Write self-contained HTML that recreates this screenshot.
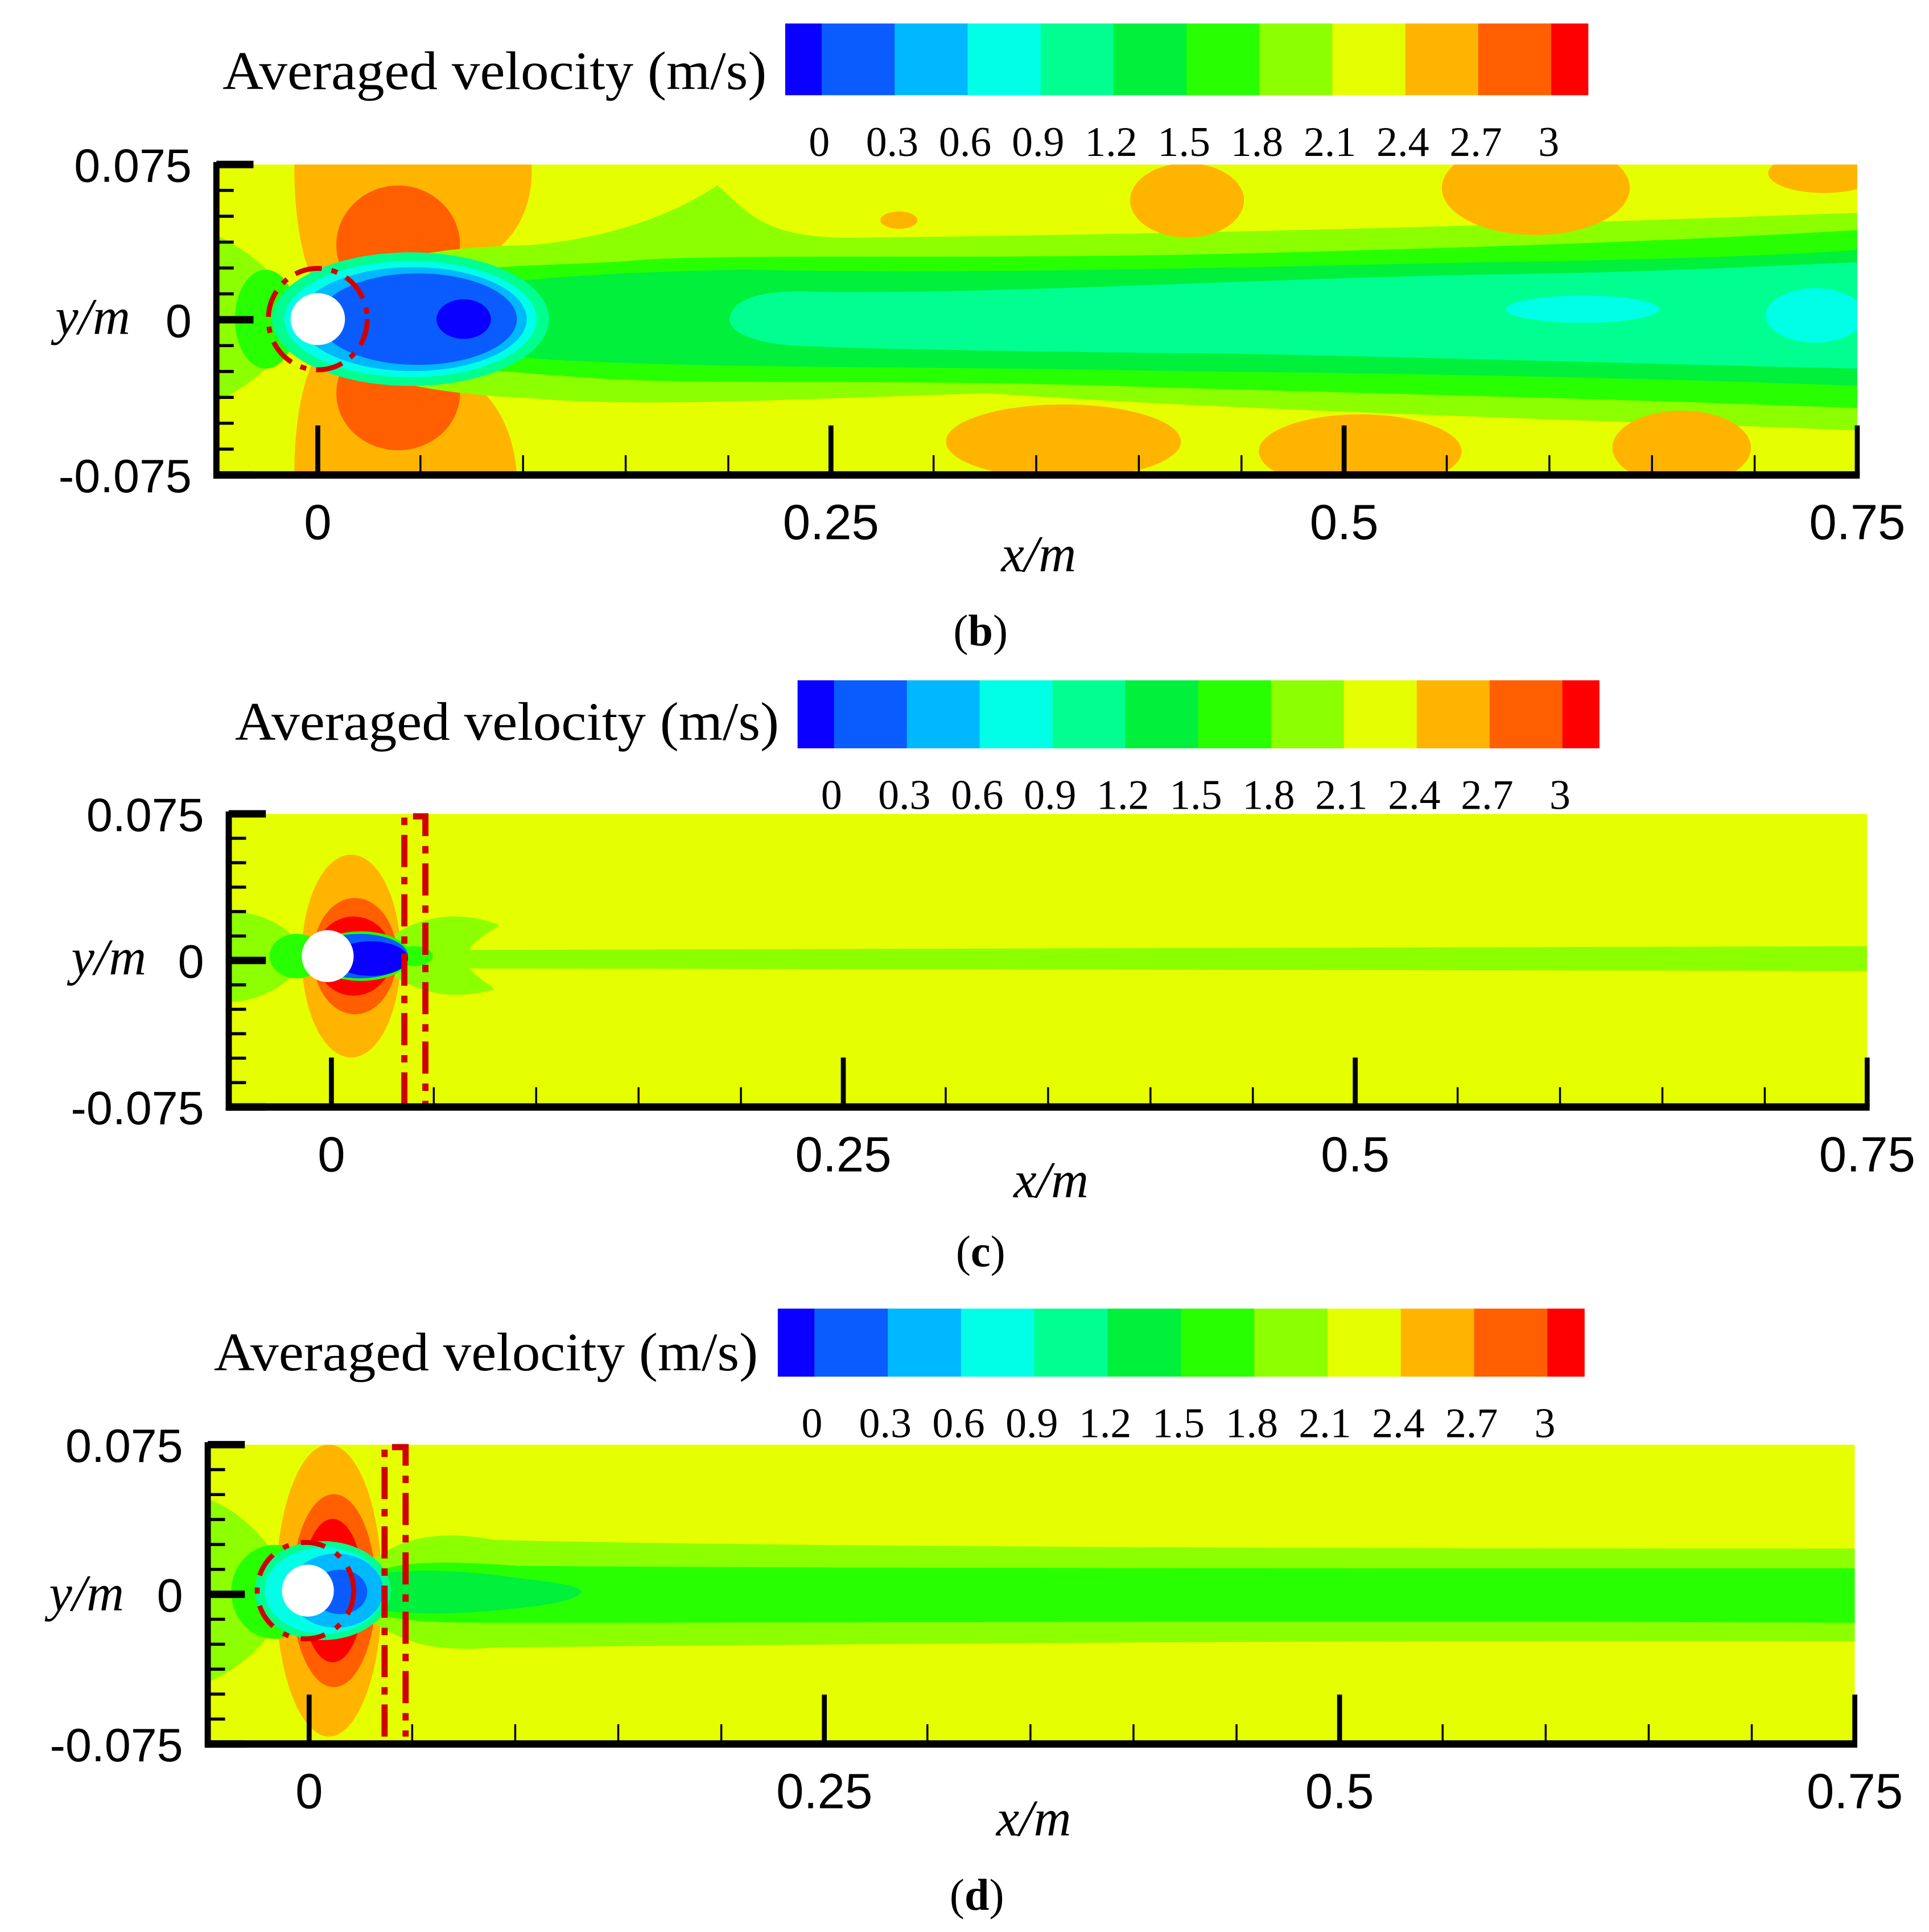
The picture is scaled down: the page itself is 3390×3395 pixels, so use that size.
<!DOCTYPE html>
<html><head><meta charset="utf-8">
<style>
html,body{margin:0;padding:0;background:#fff;}
svg{display:block;}
text{font-family:"Liberation Serif",serif;}
.ax{font-family:"Liberation Sans",sans-serif;}
</style></head>
<body>
<svg id="fig" xmlns="http://www.w3.org/2000/svg" width="3390" height="3395" viewBox="0 0 1560 1562" preserveAspectRatio="none"></svg>
<script>
// ---- data ----
const levelLabels = ["0","0.3","0.6","0.9","1.2","1.5","1.8","2.1","2.4","2.7","3"];
const levelColors = ["#0a00ff","#0a5cff","#00b8ff","#00ffe6","#00ff90","#00f03c","#28ff00","#8cff00","#e6ff00","#ffb400","#ff5f00","#ff0000"];
const xTickLabels = ["0","0.25","0.5","0.75"];
const xTickValues = [0,0.25,0.5,0.75];
const yTickLabels = ["0.075","0","-0.075"];
const yTickValues = [0.075,0,-0.075];
const panelNames = ["b","c","d"];

const NS="http://www.w3.org/2000/svg";
const svg=document.getElementById('fig');
function mk(tag,attrs,parent){const e=document.createElementNS(NS,tag);for(const k in attrs)e.setAttribute(k,attrs[k]);(parent||svg).appendChild(e);return e;}
const C={db:levelColors[0],b:levelColors[1],lb:levelColors[2],cy:levelColors[3],mi:levelColors[4],g2:levelColors[5],g:levelColors[6],lg:levelColors[7],y:levelColors[8],o:levelColors[9],ro:levelColors[10],r:levelColors[11]};

const panels=[
 {id:"b",cb:[635,19,1284,77],title:[180,72],plot:[175,133,1502,384],x0:257,x075:1502,cap:[793,522],xl:[840,462],yl:[75,270]},
 {id:"c",cb:[645,550,1293,605],title:[190,598],plot:[185,658,1510,895],x0:268,x075:1510,cap:[793,1024],xl:[850,968],yl:[88,788]},
 {id:"d",cb:[629,1058,1281,1113],title:[173,1108],plot:[168,1168,1500,1410],x0:250,x075:1500,cap:[790,1544],xl:[836,1484],yl:[70,1302]}
];

function ell(g,cx,cy,rx,ry,f){return mk('ellipse',{cx,cy,rx,ry,fill:f},g);}
function pth(g,d,f){return mk('path',{d,fill:f},g);}

function fieldB(g){
 pth(g,"M238,133 L430,133 C432,185 400,220 330,230 L262,242 C245,220 238,180 238,133Z",C.o);
 pth(g,"M238,384 L418,384 C414,330 385,298 330,288 L262,276 C245,300 238,340 238,384Z",C.o);
 ell(g,322,198,50,48,C.ro); ell(g,322,318,50,46,C.ro);
 pth(g,"M175,190 C205,205 230,225 240,258 C230,290 205,310 175,325Z",C.lg);
 ell(g,215,258,25,40,C.g);
 pth(g,"M250,245 C300,205 360,200 430,198 C500,192 550,170 580,150 C605,170 615,195 700,192 C900,190 1150,185 1502,172 L1502,348 C1300,340 1000,332 800,318 C650,322 520,330 430,322 C330,318 270,300 250,270Z",C.lg);
 pth(g,"M330,225 C400,212 470,215 520,210 C600,205 800,210 1000,205 C1200,200 1350,195 1502,186 L1502,330 C1300,322 1100,318 900,312 C700,306 560,312 470,305 C400,300 350,295 330,290Z",C.g);
 pth(g,"M380,232 C450,222 520,220 600,218 C800,222 1000,216 1200,212 C1350,210 1450,206 1502,202 L1502,312 C1350,306 1150,302 950,300 C750,296 600,298 470,292 C420,290 390,285 380,282Z",C.g2);
 pth(g,"M590,258 C592,240 620,234 660,236 C800,238 1000,226 1200,222 C1350,220 1450,214 1502,212 L1502,298 C1400,296 1200,290 1000,286 C800,284 700,282 660,280 C615,280 590,270 590,258Z",C.mi);
 ell(g,1280,250,62,11,C.cy); ell(g,1468,255,40,22,C.cy);
 ell(g,332,258,112,54,C.mi); ell(g,332,258,102,47,C.cy); ell(g,334,258,92,42,C.lb); ell(g,338,258,80,37,C.b);
 ell(g,375,258,22,16,C.db);
 ell(g,960,162,46,30,C.o); ell(g,1242,152,76,38,C.o); ell(g,1475,140,45,16,C.o); ell(g,727,178,15,7,C.o);
 ell(g,860,357,95,30,C.o); ell(g,1100,365,82,30,C.o); ell(g,1360,362,56,30,C.o);
}
function cylB(g){
 ell(g,257,258,22,21,"#fff");
 mk('ellipse',{cx:257,cy:258,rx:40,ry:41,fill:"none",stroke:"#d00000","stroke-width":4,"stroke-dasharray":"22 8 5 8"},g);
}
function fieldC(g){
 ell(g,284,773,40,82,C.o);
 ell(g,287,773,34,47,C.ro);
 ell(g,286,773,31,32,C.r);
 pth(g,"M185,738 C215,735 240,755 250,773 C240,790 215,810 185,810Z",C.lg);
 ell(g,240,773,22,18,C.g);
 pth(g,"M320,755 C350,735 385,740 404,748 C385,760 380,765 380,768 L1510,765 L1510,785 L380,783 C385,790 395,795 400,800 C370,808 345,805 320,790Z",C.lg);
 ell(g,335,773,15,8,C.g);
 ell(g,292,773,40,20,C.g); ell(g,291,773,39,18,C.b); ell(g,300,775,30,14,C.db);
}
function cylC(g){
 ell(g,265,773,21,21,"#fff");
 mk('path',{d:"M327,893 L327,660 L344,660 L344,893",fill:"none",stroke:"#d00000","stroke-width":5,"stroke-dasharray":"26 8 6 8"},g);
}
function fieldD(g){
 ell(g,266,1286,43,118,C.o);
 ell(g,270,1286,34,78,C.ro);
 ell(g,269,1286,25,58,C.r);
 pth(g,"M168,1212 C205,1225 230,1265 240,1286 C230,1310 205,1345 168,1360Z",C.lg);
 ell(g,222,1287,35,38,C.g);
 pth(g,"M300,1262 C330,1240 360,1238 400,1245 C600,1250 1000,1252 1500,1252 L1500,1327 C1000,1326 600,1330 400,1332 C360,1335 330,1332 300,1310Z",C.lg);
 pth(g,"M305,1270 C330,1262 360,1262 420,1266 C700,1268 1100,1268 1500,1268 L1500,1312 C1100,1310 700,1312 420,1312 C360,1312 330,1312 305,1305Z",C.g);
 pth(g,"M310,1272 C340,1268 380,1270 420,1276 C460,1280 470,1284 470,1287 C470,1290 460,1296 420,1300 C380,1305 340,1306 310,1302Z",C.g2);
 ell(g,261,1286,55,40,C.mi); ell(g,262,1286,48,35,C.cy); ell(g,272,1286,38,30,C.lb); ell(g,275,1287,22,18,C.b);
}
function cylD(g){
 ell(g,249,1286,21,21,"#fff");
 mk('ellipse',{cx:247,cy:1286,rx:39,ry:39,fill:"none",stroke:"#d00000","stroke-width":4,"stroke-dasharray":"20 10 5 10"},g);
 mk('path',{d:"M311,1404 L311,1170 L328,1170 L328,1404",fill:"none",stroke:"#d00000","stroke-width":5,"stroke-dasharray":"26 8 6 8"},g);
}
const fields={b:[fieldB,cylB],c:[fieldC,cylC],d:[fieldD,cylD]};

panels.forEach((p,pi)=>{
 const g=mk('g',{});
 
 
 const [cx0,cy0,cx1,cy1]=p.cb;
 const n=levelColors.length;
 const step=(cx1-cx0)/(n-1);
 const bar=mk('g',{},g);
 
 
 levelColors.forEach((col,i)=>{
  let xa=cx0+(i===0?0:(i-0.5)*step), xb=cx0+(i===n-1?(n-1)*step:(i+0.5)*step);
  const r=mk('rect',{x:xa,y:cy0,width:xb-xa+0.5,height:cy1-cy0,fill:col},bar);
  
  
 });
 levelLabels.forEach((lab,i)=>{
  const t=mk('text',{x:cx0+(i+0.5)*step-2,y:cy1+49,"font-size":34,"text-anchor":"middle"},bar);
  t.textContent=lab;
  
  
 });
 const tt=mk('text',{x:p.title[0],y:p.title[1],"font-size":44,textLength:440,lengthAdjust:"spacingAndGlyphs"},g);
 tt.textContent="Averaged velocity (m/s)";
 
 
 const [px0,py0,px1,py1]=p.plot;
 const sx=v=>p.x0+(p.x075-p.x0)*v/0.75;
 const sy=v=>(py0+py1)/2-(py1-py0)*v/0.15;
 const cid='clip'+p.id;
 const cp=mk('clipPath',{id:cid},svg); mk('rect',{x:px0,y:py0,width:px1-px0,height:py1-py0},cp);
 const fg=mk('g',{"clip-path":"url(#"+cid+")"},g);
 
 
 mk('rect',{x:px0,y:py0,width:px1-px0,height:py1-py0,fill:C.y},fg);
 fields[p.id][0](fg);
 fields[p.id][1](g);
 const ax=mk('g',{},g);
 
 
 mk('line',{x1:px0,y1:py0-2,x2:px0,y2:py1+3,stroke:"#000","stroke-width":5},ax);
 mk('line',{x1:px0-2,y1:py1,x2:px1+2,y2:py1,stroke:"#000","stroke-width":6},ax);
 for(let k=0;k<=12;k++){
  const v=0.075-k*0.0125, y=sy(v);
  const major=(k===0||k===6||k===12);
  mk('line',{x1:px0,y1:y,x2:px0+(major?30:14),y2:y,stroke:"#000","stroke-width":major?6:2.5},ax);
 }
 for(let k=0;k<=15;k++){
  const v=k*0.05, x=sx(v);
  const major=(k%5===0);
  mk('line',{x1:x,y1:py1,x2:x,y2:py1-(major?40:16),stroke:"#000","stroke-width":major?4:1.6},ax);
 }
 xTickValues.forEach((v,i)=>{
  const t=mk('text',{class:"ax",x:sx(v),y:py1+52,"font-size":40,"text-anchor":"middle"},ax);
  t.textContent=xTickLabels[i];
  
  
 });
 yTickValues.forEach((v,i)=>{
  const t=mk('text',{class:"ax",x:px0-20,y:sy(v)+14,"font-size":38,"text-anchor":"end"},ax);
  t.textContent=yTickLabels[i];
  
  
 });
 const xl=mk('text',{x:p.xl[0],y:p.xl[1],"font-size":42,"font-style":"italic","text-anchor":"middle"},g);
 xl.textContent="x/m";
 
 
 const yl=mk('text',{x:p.yl[0],y:p.yl[1],"font-size":42,"font-style":"italic","text-anchor":"middle"},g);
 yl.textContent="y/m";
 
 
 const cap=mk('text',{x:p.cap[0],y:p.cap[1],"font-size":36,"text-anchor":"middle"},g);
 cap.innerHTML='(<tspan font-weight="bold">'+panelNames[pi]+'</tspan>)';
 
 
});
</script>
</body></html>
